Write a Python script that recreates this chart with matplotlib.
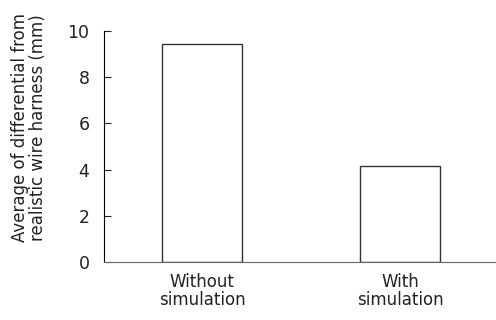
import matplotlib
matplotlib.use("Agg")
import matplotlib.pyplot as plt

categories = ["Without\nsimulation", "With\nsimulation"]
values = [9.45, 4.15]
yticks = [0, 2, 4, 6, 8, 10]
ylabel = "Average of differential from\nrealistic wire harness (mm)"

plt.rcParams['font.family'] = ['DejaVu Sans']

fig = plt.figure(figsize=(4.96, 3.20), dpi=100)
ax = fig.add_axes([104/496, 58/320, 392/496, 231/320])
x = list(range(len(categories)))
ax.bar(x, values, width=0.404, facecolor='white', edgecolor='#333333', linewidth=1.0)
ax.set_xlim(-0.495, 1.485)
ax.set_ylim(0, 10)
ax.set_yticks(yticks)
ax.set_xticks(x)
ax.set_xticklabels(categories, fontsize=12, color='#222222', linespacing=1.0)
ax.tick_params(axis='x', length=0, pad=8)
ax.tick_params(axis='y', direction='in', length=5, width=0.8, pad=10.5, labelsize=12.5, colors='#222222')
for s in ['top', 'right']:
    ax.spines[s].set_visible(False)
ax.spines['left'].set_color('black')
ax.spines['bottom'].set_color('#666666')
fig.text(29/496, 192/320, ylabel, rotation=90, ha='center', va='center', fontsize=12, color='#222222', linespacing=1.0)
fig.savefig("out.png", dpi=100)
